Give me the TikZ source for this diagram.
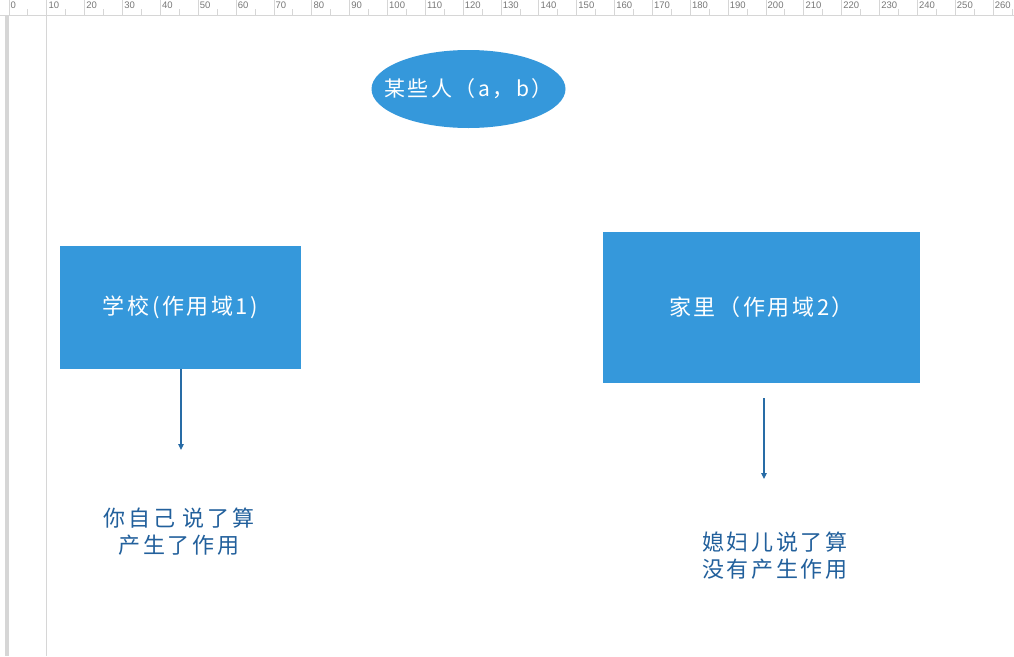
\documentclass[tikz,border=0pt]{standalone}
\usepackage{fontspec}
\newfontfamily\cjk[LetterSpace=12]{Noto Sans CJK SC}
\newfontfamily\rulerfont{Liberation Sans}
\usetikzlibrary{shapes.geometric,arrows.meta}
\definecolor{boxblue}{RGB}{53,152,219}
\definecolor{arrowblue}{RGB}{40,108,166}
\definecolor{textblue}{RGB}{34,96,156}
\definecolor{rulerline}{RGB}{214,214,214}
\definecolor{rulertext}{RGB}{120,120,120}
\tikzset{
  rline/.style={draw=rulerline, line width=0.9pt},
  rlabel/.style={font=\rulerfont\fontsize{9.5}{10}\selectfont, text=rulertext, inner sep=0pt, anchor=north west},
  bluebox/.style={rectangle, fill=boxblue, draw=none, text=white, font=\cjk\fontsize{22}{24}\selectfont},
  blueoval/.style={ellipse, fill=boxblue, draw=none, inner sep=0pt},
  ovaltext/.style={text=white, inner sep=0pt, font=\cjk\fontsize{21}{24}\selectfont},
  arr/.style={draw=arrowblue, line width=1.2pt, -{Triangle[width=5.5pt,length=6pt]}},
  note/.style={text=textblue, inner sep=0pt, font=\cjk\fontsize{22}{27}\selectfont}
}
\begin{document}
\begin{tikzpicture}[x=1pt,y=-1pt]
\useasboundingbox (0,0) rectangle (1014,656);
\fill[white] (0,0) rectangle (1014,656);
% ruler
\draw[rline] (0,15.5) -- (1014,15.5);
\foreach \i in {0,...,26} {
  \pgfmathsetmacro\xx{9+37.85*\i}
  \pgfmathtruncatemacro\lab{\i*10}
  \draw[rline] (\xx,0) -- (\xx,15);
  \draw[rline] (\xx+18.9,9) -- (\xx+18.9,15);
  \node[rlabel] (rl\i) at (\xx+1.5,2) {\lab};
}
\fill[rulerline] (5,16) rectangle (8.5,656);
\draw[rline] (46.5,0) -- (46.5,656);
% shapes
\node[blueoval, minimum width=194, minimum height=78] (people) at (468.5,89) {};
\node[ovaltext] (peopletext) at (people.center) {某些人（a，b）};
\node[bluebox, minimum width=241, minimum height=123] (school) at (180.5,307.5) {学校(作用域1)};
\node[bluebox, minimum width=317, minimum height=151] (home) at (761.5,307.5) {家里（作用域2）};
% arrows
\coordinate (a1e) at (181,450);
\coordinate (a2s) at (764,398);
\coordinate (a2e) at (764,479);
\draw[arr] (school.south -| a1e) -- (a1e);
\draw[arr] (a2s) -- (a2e);
% notes
\node[note, align=center] (n1) at (179,531.5) {你自己 说了算\\产生了作用};
\node[note, align=left, anchor=west] (n2) at (702,555.5) {媳妇儿说了算\\没有产生作用};
\end{tikzpicture}
\end{document}
